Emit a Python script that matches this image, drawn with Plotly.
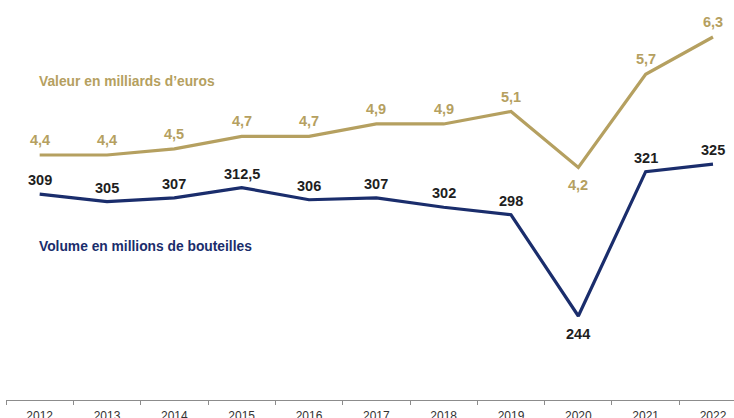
import plotly.graph_objects as go

annees = ["2012", "2013", "2014", "2015", "2016", "2017", "2018", "2019", "2020", "2021", "2022"]
valeur = [4.4, 4.4, 4.5, 4.7, 4.7, 4.9, 4.9, 5.1, 4.2, 5.7, 6.3]
valeur_labels = ["4,4", "4,4", "4,5", "4,7", "4,7", "4,9", "4,9", "5,1", "4,2", "5,7", "6,3"]
volume = [309, 305, 307, 312.5, 306, 307, 302, 298, 244, 321, 325]
volume_labels = ["309", "305", "307", "312,5", "306", "307", "302", "298", "244", "321", "325"]

GOLD = "#B5A060"
NAVY = "#1A2D6C"
FONT = "Liberation Sans, Arial, sans-serif"

fig = go.Figure()
fig.add_trace(go.Scatter(x=annees, y=valeur, mode="lines",
                         line=dict(color=GOLD, width=3.2), yaxis="y",
                         hoverinfo="skip", showlegend=False))
fig.add_trace(go.Scatter(x=annees, y=volume, mode="lines",
                         line=dict(color=NAVY, width=3.2), yaxis="y2",
                         hoverinfo="skip", showlegend=False))

annotations = []
for i, (v, t) in enumerate(zip(valeur, valeur_labels)):
    below = v == min(valeur)
    annotations.append(dict(x=i, y=v, xref="x", yref="y", text="<b>" + t + "</b>",
                            showarrow=False, yanchor="middle",
                            yshift=-18 if below else 15,
                            font=dict(family=FONT, size=14.5, color=GOLD)))
for i, (v, t) in enumerate(zip(volume, volume_labels)):
    below = v == min(volume)
    annotations.append(dict(x=i, y=v, xref="x", yref="y2", text="<b>" + t + "</b>",
                            showarrow=False, yanchor="middle",
                            yshift=-18 if below else 14,
                            font=dict(family=FONT, size=14.5, color="#1e1e1e")))

# series titles, placed in pixel terms inside the plot area (l=6, plot 728x400)
titles = [("Valeur en milliards d\u2019euros", GOLD, 37, 81),
          ("Volume en millions de bouteilles", NAVY, 37, 247)]
for text, col, px, py in titles:
    annotations.append(dict(x=(px - 6) / 728.0, y=(400 - py) / 400.0,
                            xref="paper", yref="paper",
                            text="<b>" + text + "</b>", showarrow=False,
                            xanchor="left", yanchor="middle",
                            font=dict(family=FONT, size=13.8, color=col)))

fig.update_layout(
    width=734, height=418,
    margin=dict(l=6, r=0, t=0, b=18),
    paper_bgcolor="white", plot_bgcolor="white",
    xaxis=dict(type="category", range=[-0.5, 10.312], showgrid=False, zeroline=False,
               showline=True, linecolor="#8c8c8c", linewidth=1.2,
               ticks="outside", tickson="boundaries", ticklen=4, tickcolor="#8c8c8c",
               ticklabelstandoff=4, automargin=False,
               tickfont=dict(family=FONT, size=12, color="#333333")),
    yaxis=dict(range=[0.455, 6.896], visible=False, fixedrange=True, automargin=False),
    yaxis2=dict(range=[199.2, 412.53], visible=False, overlaying="y", fixedrange=True,
                automargin=False),
    annotations=annotations,
    showlegend=False,
)

fig.write_html("out.html", config={"displayModeBar": False, "staticPlot": True},
               post_script="document.body.style.margin='0';document.body.style.padding='0';")
